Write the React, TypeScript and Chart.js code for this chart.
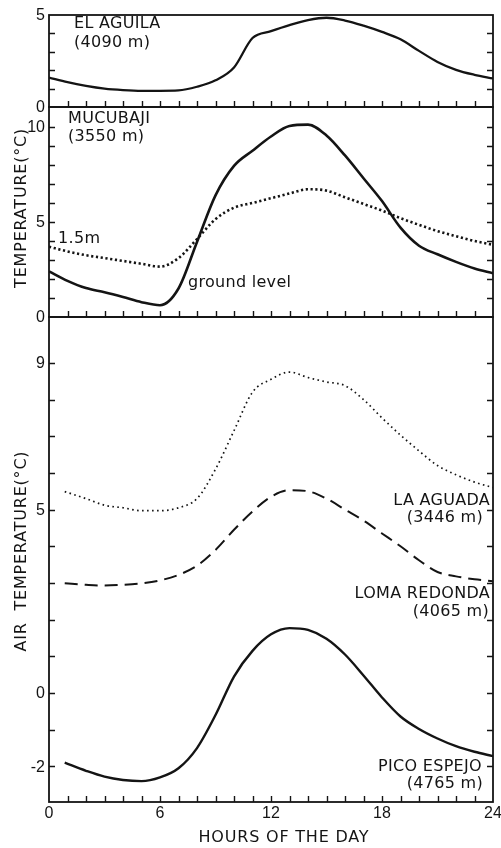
import React, { useEffect, useRef } from "react";
import { Chart, registerables } from "chart.js";

Chart.register(...registerables);

// ---------- data ----------
const HOURS = [0, 1, 2, 3, 4, 5, 6, 7, 8, 9, 10, 11, 12, 13, 14, 15, 16, 17, 18, 19, 20, 21, 22, 23, 24];
const EL_AGUILA = [1.6, 1.35, 1.15, 1.0, 0.92, 0.88, 0.88, 0.9, 1.1, 1.45, 2.15, 3.75, 4.12, 4.45, 4.72, 4.85, 4.7, 4.42, 4.08, 3.68, 3.05, 2.45, 2.02, 1.75, 1.55];
const MUCUBAJI_GROUND = [2.4, 1.9, 1.52, 1.3, 1.05, 0.78, 0.62, 1.5, 3.95, 6.4, 7.95, 8.75, 9.5, 10.05, 10.12, 9.55, 8.5, 7.3, 6.1, 4.7, 3.75, 3.3, 2.9, 2.55, 2.3];
const MUCUBAJI_15M = [3.7, 3.45, 3.25, 3.1, 2.95, 2.8, 2.65, 3.1, 4.1, 5.15, 5.75, 6.0, 6.25, 6.5, 6.72, 6.65, 6.3, 5.95, 5.6, 5.2, 4.85, 4.52, 4.25, 4.0, 3.8];

const HOURS_AIR = [0.85, 2, 3, 4, 5, 6, 7, 8, 9, 10, 11, 12, 13, 14, 15, 16, 17, 18, 19, 20, 21, 22, 23, 24];
const LA_AGUADA = [5.49, 5.3, 5.12, 5.05, 4.97, 4.97, 5.05, 5.3, 6.1, 7.15, 8.2, 8.55, 8.75, 8.6, 8.48, 8.38, 8.0, 7.5, 7.03, 6.6, 6.2, 5.95, 5.75, 5.6];
const LOMA_REDONDA = [2.99, 2.95, 2.93, 2.95, 2.99, 3.07, 3.22, 3.47, 3.9, 4.45, 4.95, 5.35, 5.53, 5.5, 5.3, 5.0, 4.7, 4.35, 4.0, 3.62, 3.3, 3.18, 3.1, 3.05];
const PICO_ESPEJO = [-1.9, -2.12, -2.28, -2.37, -2.4, -2.3, -2.05, -1.5, -0.6, 0.45, 1.15, 1.6, 1.77, 1.72, 1.48, 1.05, 0.48, -0.12, -0.64, -0.98, -1.24, -1.45, -1.6, -1.72];

const X_TICK_LABELS = [0, 6, 12, 18, 24];
const TOP_Y_LABELS = [0, 5];
const MID_Y_LABELS = [0, 5, 10];
const BOTTOM_Y_LABELS = [-2, 0, 5, 9];

// ---------- styling ----------
const INK = "#141414";
const TEXT_FONT = "16px 'DejaVu Sans'";
const NUM_FONT = "16px 'Liberation Sans'";

type Series = { hours: number[]; values: number[]; dash: number[]; width: number };
type Note = { text: string; h: number; v: number; align: CanvasTextAlign };
type Panel = {
  top: number;
  height: number;
  padTop: number;
  padBottom: number;
  yMin: number;
  yMax: number;
  yTicks: number[];
  yLabels: number[];
  series: Series[];
  notes: Note[];
  yTitle?: { text: string; v: number };
  xAxis?: boolean;
};

const range = (a: number, b: number) => {
  const r: number[] = [];
  for (let i = a; i <= b; i++) r.push(i);
  return r;
};

const PANELS: Panel[] = [
  {
    top: 0,
    height: 120,
    padTop: 15,
    padBottom: 13,
    yMin: 0,
    yMax: 5,
    yTicks: range(1, 4),
    yLabels: TOP_Y_LABELS,
    series: [{ hours: HOURS, values: EL_AGUILA, dash: [], width: 2.3 }],
    notes: [
      { text: "EL AGUILA", h: 1.35, v: 4.5, align: "left" },
      { text: "(4090 m)", h: 1.35, v: 3.48, align: "left" },
    ],
  },
  {
    top: 100,
    height: 230,
    padTop: 7,
    padBottom: 13,
    yMin: 0,
    yMax: 11.05,
    yTicks: range(1, 10),
    yLabels: MID_Y_LABELS,
    series: [
      { hours: HOURS, values: MUCUBAJI_GROUND, dash: [], width: 2.6 },
      { hours: HOURS, values: MUCUBAJI_15M, dash: [2.2, 2.6], width: 2.6 },
    ],
    notes: [
      { text: "MUCUBAJI", h: 1.03, v: 10.45, align: "left" },
      { text: "(3550 m)", h: 1.03, v: 9.5, align: "left" },
      { text: "1.5m", h: 0.49, v: 4.13, align: "left" },
      { text: "ground level", h: 7.51, v: 1.8, align: "left" },
    ],
    yTitle: { text: "TEMPERATURE(°C)", v: 5.74 },
  },
  {
    top: 310,
    height: 538,
    padTop: 7,
    padBottom: 46,
    yMin: -2.97,
    yMax: 10.25,
    yTicks: range(-2, 9),
    yLabels: BOTTOM_Y_LABELS,
    series: [
      { hours: HOURS_AIR, values: LA_AGUADA, dash: [1.6, 3.4], width: 1.7 },
      { hours: HOURS_AIR, values: LOMA_REDONDA, dash: [13, 7], width: 2.0 },
      { hours: HOURS_AIR, values: PICO_ESPEJO, dash: [], width: 2.4 },
    ],
    notes: [
      { text: "LA AGUADA", h: 23.84, v: 5.23, align: "right" },
      { text: "(3446 m)", h: 23.46, v: 4.77, align: "right" },
      { text: "LOMA REDONDA", h: 23.84, v: 2.7, align: "right" },
      { text: "(4065 m)", h: 23.78, v: 2.22, align: "right" },
      { text: "PICO ESPEJO", h: 23.4, v: -2.0, align: "right" },
      { text: "(4765 m)", h: 23.46, v: -2.47, align: "right" },
    ],
    yTitle: { text: "AIR  TEMPERATURE(°C)", v: 3.87 },
    xAxis: true,
  },
];

function makeDecor(p: Panel) {
  return {
    id: "decor",
    afterDraw(chart: any) {
      const ctx: CanvasRenderingContext2D = chart.ctx;
      const { left, right, top, bottom } = chart.chartArea;
      const xs = chart.scales.x;
      const ys = chart.scales.y;
      ctx.save();
      ctx.strokeStyle = INK;
      ctx.fillStyle = INK;
      ctx.lineWidth = 1.8;
      ctx.strokeRect(left, top, right - left, bottom - top);
      ctx.lineWidth = 1.4;
      ctx.beginPath();
      for (let h = 1; h < 24; h++) {
        const px = Math.round(xs.getPixelForValue(h)) + 0.5;
        ctx.moveTo(px, bottom);
        ctx.lineTo(px, bottom - 6);
      }
      for (const v of p.yTicks) {
        const py = Math.round(ys.getPixelForValue(v)) + 0.5;
        ctx.moveTo(left, py);
        ctx.lineTo(left + 6, py);
        ctx.moveTo(right, py);
        ctx.lineTo(right - 6, py);
      }
      ctx.stroke();

      ctx.font = NUM_FONT;
      ctx.textAlign = "right";
      ctx.textBaseline = "middle";
      for (const v of p.yLabels) {
        ctx.fillText(String(v), left - 4, ys.getPixelForValue(v) + 1);
      }
      if (p.xAxis) {
        ctx.textAlign = "center";
        for (const h of X_TICK_LABELS) {
          ctx.fillText(String(h), xs.getPixelForValue(h), bottom + 12);
        }
        ctx.font = TEXT_FONT;
        (ctx as any).letterSpacing = "0.8px";
        ctx.fillText("HOURS OF THE DAY", xs.getPixelForValue(12.7), bottom + 36);
      }

      ctx.font = TEXT_FONT;
      (ctx as any).letterSpacing = "0.3px";
      for (const n of p.notes) {
        ctx.textAlign = n.align;
        ctx.fillText(n.text, xs.getPixelForValue(n.h), ys.getPixelForValue(n.v));
      }
      if (p.yTitle) {
        (ctx as any).letterSpacing = "0.8px";
        ctx.save();
        ctx.translate(22, ys.getPixelForValue(p.yTitle.v));
        ctx.rotate(-Math.PI / 2);
        ctx.textAlign = "center";
        ctx.textBaseline = "middle";
        ctx.fillText(p.yTitle.text, 0, 0);
        ctx.restore();
      }
      ctx.restore();
    },
  };
}

function PanelChart({ p }: { p: Panel }) {
  const ref = useRef<HTMLCanvasElement | null>(null);
  useEffect(() => {
    if (!ref.current) return;
    const chart = new Chart(ref.current, {
      type: "line",
      data: {
        datasets: p.series.map((s) => ({
          data: s.hours.map((h, i) => ({ x: h, y: s.values[i] })),
          borderColor: INK,
          borderWidth: s.width,
          borderDash: s.dash,
          pointRadius: 0,
          fill: false,
          tension: 0.4,
          cubicInterpolationMode: "monotone" as const,
        })),
      },
      options: {
        responsive: false,
        maintainAspectRatio: false,
        animation: false,
        devicePixelRatio: 1,
        layout: { padding: { left: 49, right: 8, top: p.padTop, bottom: p.padBottom } },
        plugins: { legend: { display: false }, tooltip: { enabled: false } },
        scales: {
          x: { type: "linear", min: 0, max: 24, display: false },
          y: { type: "linear", min: p.yMin, max: p.yMax, display: false },
        },
      },
      plugins: [makeDecor(p)],
    });
    return () => chart.destroy();
  }, [p]);
  return (
    <canvas
      ref={ref}
      width={501}
      height={p.height}
      style={{ position: "absolute", left: 0, top: p.top, width: 501, height: p.height }}
    />
  );
}

export default function App() {
  return (
    <div style={{ position: "absolute", left: 0, top: 0, width: 501, height: 848, background: "#fff" }}>
      {PANELS.map((p, i) => (
        <PanelChart key={i} p={p} />
      ))}
    </div>
  );
}
